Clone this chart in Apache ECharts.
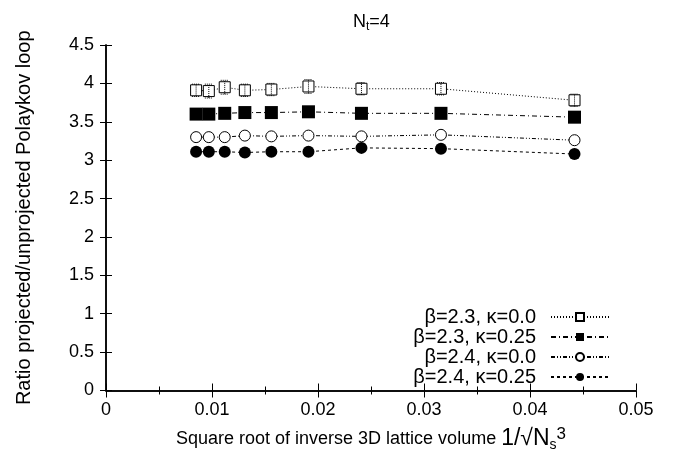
<!DOCTYPE html>
<html>
<head>
<meta charset="utf-8">
<script src="https://cdn.jsdelivr.net/npm/echarts@6/dist/echarts.min.js"></script>
<style>
  html, body { margin: 0; padding: 0; background: #fff; }
  #chart { width: 679px; height: 457px; }
</style>
</head>
<body>
<div id="chart"></div>
<script>
// x = 1/sqrt(Ns^3)
var xs = [0.0085, 0.0097, 0.0112, 0.0131, 0.0156, 0.0191, 0.0241, 0.0316, 0.0442];
var b23k00 = [3.91, 3.90, 3.95, 3.91, 3.92, 3.96, 3.93, 3.93, 3.78];
var b23k25 = [3.60, 3.60, 3.61, 3.62, 3.62, 3.63, 3.61, 3.61, 3.56];
var b24k00 = [3.30, 3.30, 3.30, 3.32, 3.31, 3.32, 3.31, 3.33, 3.26];
var b24k25 = [3.11, 3.11, 3.11, 3.10, 3.11, 3.11, 3.16, 3.15, 3.08];
var err23k00 = [0.08, 0.09, 0.09, 0.08, 0.08, 0.09, 0.08, 0.08, 0.08];
var names = ['β=2.3, κ=0.0', 'β=2.3, κ=0.25', 'β=2.4, κ=0.0', 'β=2.4, κ=0.25'];

var font = 'Liberation Sans';

function pts(ys) {
  return xs.map(function (x, i) { return [x, ys[i]]; });
}

var chart = echarts.init(document.getElementById('chart'));

// 误差棒
var errData = xs.map(function (x, i) { return [x, b23k00[i] - err23k00[i], b23k00[i] + err23k00[i]]; });

var option = {
  backgroundColor: '#fff',
  animation: false,
  title: {
    text: '{n|N}{s|t}{n|=4}',
    left: 348,
    top: 6,
    textStyle: {
      fontWeight: 'normal',
      rich: {
        n: { fontFamily: font, fontSize: 18, color: '#000' },
        s: { fontFamily: font, fontSize: 12, color: '#000', padding: [10, 0, 0, 0] }
      }
    }
  },
  legend: {
    orient: 'vertical',
    right: 64,
    top: 302,
    align: 'right',
    itemWidth: 58,
    itemHeight: 10,
    itemGap: 0,
    data: names,
    textStyle: { fontFamily: font, fontSize: 20, lineHeight: 20, color: '#000', padding: [0, 10, 0, 0] }
  },
  grid: { left: 106, right: 43, top: 45, bottom: 66 },
  xAxis: [{
    type: 'value',
    min: 0, max: 0.05, interval: 0.01,
    name: '{a|Square root of inverse 3D lattice volume }{b|1/√N}{s|s}{p|3}',
    nameLocation: 'middle',
    nameGap: 35,
    nameTextStyle: {
      rich: {
        a: { fontFamily: font, fontSize: 18, color: '#000' },
        b: { fontFamily: font, fontSize: 23, color: '#000' },
        s: { fontFamily: font, fontSize: 14, color: '#000', padding: [12, 0, 0, 0] },
        p: { fontFamily: font, fontSize: 17, color: '#000', padding: [0, 0, 10, 0] }
      }
    },
    axisLine: { lineStyle: { color: '#000', width: 1.5 } },
    axisTick: { inside: true, length: 7, lineStyle: { color: '#000' } },
    minorTick: { show: true, splitNumber: 2, length: 4, lineStyle: { color: '#000' } },
    splitLine: { show: false },
    axisLabel: { fontFamily: font, fontSize: 18, color: '#000', margin: 11,
      formatter: function (v) { return v === 0 ? '0' : v.toFixed(2); } }
  }, {
    type: 'value', position: 'top',
    min: 0, max: 0.05, interval: 0.01,
    axisLine: { lineStyle: { color: '#000', width: 1.5 } },
    axisTick: { inside: true, length: 7, lineStyle: { color: '#000' } },
    minorTick: { show: true, splitNumber: 2, length: 4, lineStyle: { color: '#000' } },
    splitLine: { show: false },
    axisLabel: { show: false }
  }],
  yAxis: [{
    type: 'value',
    min: 0, max: 4.5, interval: 0.5,
    name: 'Ratio projected/unprojected Polaykov loop',
    nameLocation: 'middle',
    nameGap: 72,
    nameTextStyle: { fontFamily: font, fontSize: 20, color: '#000' },
    axisLine: { lineStyle: { color: '#000', width: 1.5 } },
    axisTick: { inside: true, length: 6, lineStyle: { color: '#000' } },
    splitLine: { show: false },
    axisLabel: { fontFamily: font, fontSize: 18, color: '#000', margin: 12 }
  }, {
    type: 'value', position: 'right',
    min: 0, max: 4.5, interval: 0.5,
    axisLine: { lineStyle: { color: '#000', width: 1.5 } },
    axisTick: { inside: true, length: 6, lineStyle: { color: '#000' } },
    splitLine: { show: false },
    axisLabel: { show: false }
  }],
  series: [
    {
      name: names[0], type: 'line', data: pts(b23k00),
      symbol: 'rect', symbolSize: 11,
      itemStyle: { color: '#fff', borderColor: '#000', borderWidth: 1 },
      lineStyle: { color: '#000', width: 1, type: [1, 2] }
    },
    {
      name: names[1], type: 'line', data: pts(b23k25),
      symbol: 'rect', symbolSize: 13,
      itemStyle: { color: '#000' },
      lineStyle: { color: '#000', width: 1, type: [5, 3, 1, 3] }
    },
    {
      name: names[2], type: 'line', data: pts(b24k00),
      symbol: 'circle', symbolSize: 11,
      itemStyle: { color: '#fff', borderColor: '#000', borderWidth: 1 },
      lineStyle: { color: '#000', width: 1, type: [4, 2, 1, 2, 1, 2] }
    },
    {
      name: names[3], type: 'line', data: pts(b24k25),
      symbol: 'circle', symbolSize: 12,
      itemStyle: { color: '#000' },
      lineStyle: { color: '#000', width: 1, type: [3, 3] }
    },
    {
      type: 'custom', name: 'err', silent: true, z: 10,
      data: errData,
      renderItem: function (params, api) {
        var lo = api.coord([api.value(0), api.value(1)]);
        var hi = api.coord([api.value(0), api.value(2)]);
        var st = { stroke: '#000', lineWidth: 1, lineDash: [1, 1] };
        return {
          type: 'group',
          children: [
            { type: 'line', shape: { x1: lo[0], y1: lo[1], x2: hi[0], y2: hi[1] }, style: st },
            { type: 'line', shape: { x1: lo[0] - 4, y1: lo[1], x2: lo[0] + 4, y2: lo[1] }, style: st },
            { type: 'line', shape: { x1: hi[0] - 4, y1: hi[1], x2: hi[0] + 4, y2: hi[1] }, style: st }
          ]
        };
      }
    }
  ]
};
chart.setOption(option);
</script>
</body>
</html>
